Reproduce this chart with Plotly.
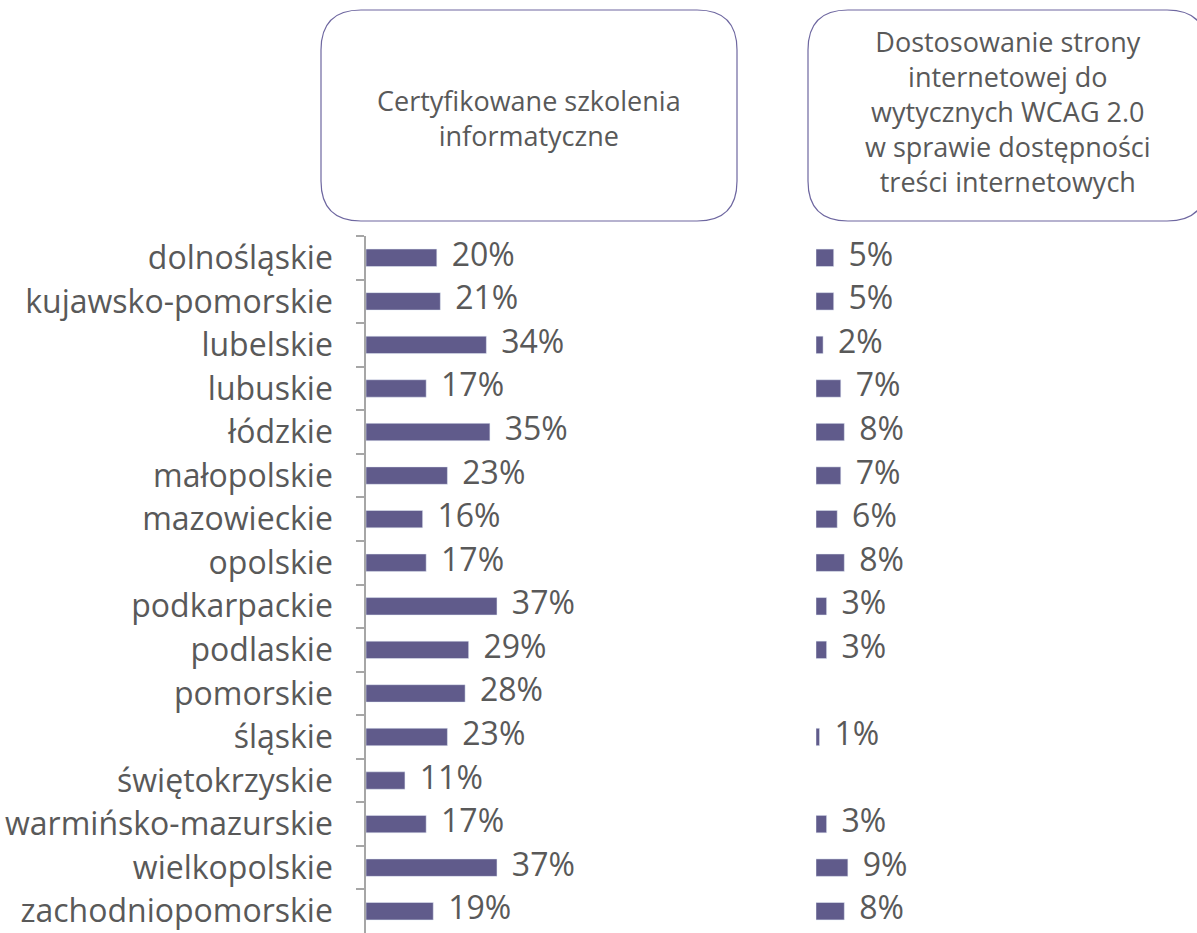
import plotly.graph_objects as go

regions = ["dolnośląskie", "kujawsko-pomorskie", "lubelskie", "lubuskie", "łódzkie",
           "małopolskie", "mazowieckie", "opolskie", "podkarpackie", "podlaskie",
           "pomorskie", "śląskie", "świętokrzyskie", "warmińsko-mazurskie",
           "wielkopolskie", "zachodniopomorskie"]
cert = [20, 21, 34, 17, 35, 23, 16, 17, 37, 29, 28, 23, 11, 17, 37, 19]
wcag = [5, 5, 2, 7, 8, 7, 6, 8, 3, 3, None, 1, None, 3, 9, 8]
header_left = ["Certyfikowane szkolenia", "informatyczne"]
header_right = ["Dostosowanie strony", "internetowej do", "wytycznych WCAG 2.0",
                "w sprawie dostępności", "treści internetowych"]

W, H = 1197, 933
PX_PER_PCT = 3.54
BAR = "#605B8B"
TXT = "#595959"
FONT = "Open Sans"
FS = 32
HFS = 27


def px(x):
    return x / W


def py(y):
    return (H - y) / H


def fmt(v):
    return "" if v is None else f"{v}%"


LABEL_OFF = 4.2  # data units

fig = go.Figure()
fig.add_trace(go.Bar(y=regions, x=cert, orientation="h", marker_color=BAR,
                     width=0.4, xaxis="x", yaxis="y", hoverinfo="skip"))
fig.add_trace(go.Bar(y=regions, x=wcag, orientation="h", marker_color=BAR,
                     width=0.4, xaxis="x2", yaxis="y", hoverinfo="skip"))
fig.add_trace(go.Scatter(y=regions, x=[v + LABEL_OFF for v in cert], mode="text",
                         text=[fmt(v) for v in cert], textposition="middle right",
                         textfont=dict(family=FONT, size=FS, color=TXT),
                         xaxis="x", yaxis="y", hoverinfo="skip", cliponaxis=False))
fig.add_trace(go.Scatter(y=regions, x=[None if v is None else v + LABEL_OFF for v in wcag],
                         mode="text", text=[fmt(v) for v in wcag],
                         textposition="middle right",
                         textfont=dict(family=FONT, size=FS, color=TXT),
                         xaxis="x2", yaxis="y", hoverinfo="skip", cliponaxis=False))


def rrect(x0, y0, x1, y1, r):
    X = px
    Y = py
    return (f"M {X(x0 + r)},{Y(y0)} L {X(x1 - r)},{Y(y0)} Q {X(x1)},{Y(y0)} {X(x1)},{Y(y0 + r)} "
            f"L {X(x1)},{Y(y1 - r)} Q {X(x1)},{Y(y1)} {X(x1 - r)},{Y(y1)} "
            f"L {X(x0 + r)},{Y(y1)} Q {X(x0)},{Y(y1)} {X(x0)},{Y(y1 - r)} "
            f"L {X(x0)},{Y(y0 + r)} Q {X(x0)},{Y(y0)} {X(x0 + r)},{Y(y0)} Z")


shapes = [
    dict(type="path", xref="paper", yref="paper", path=rrect(321, 10, 737, 221, 40),
         line=dict(color="#6E67A0", width=1.2)),
    dict(type="path", xref="paper", yref="paper", path=rrect(808, 10, 1207, 221, 40),
         line=dict(color="#6E67A0", width=1.2)),
]

annotations = [
    dict(xref="paper", yref="paper", x=px(529), y=py(118), text="<br>".join(header_left),
         showarrow=False, xanchor="center", yanchor="middle",
         font=dict(family=FONT, size=HFS, color=TXT)),
    dict(xref="paper", yref="paper", x=px(1008), y=py(111), text="<br>".join(header_right),
         showarrow=False, xanchor="center", yanchor="middle",
         font=dict(family=FONT, size=HFS, color=TXT)),
]

fig.update_layout(
    width=W, height=H, margin=dict(l=0, r=0, t=0, b=0),
    paper_bgcolor="white", plot_bgcolor="white", showlegend=False,
    shapes=shapes, annotations=annotations,
    xaxis=dict(domain=[px(366), px(740)], range=[0, (740 - 366) / PX_PER_PCT],
               visible=False, anchor="y"),
    xaxis2=dict(domain=[px(816), 1], range=[0, (W - 816) / PX_PER_PCT],
                visible=False, anchor="y"),
    yaxis=dict(domain=[0, py(236)], type="category", categoryorder="array",
               categoryarray=regions, range=[len(regions) - 0.5, -0.5], anchor="x",
               showline=True, linecolor="#A6A6A6", linewidth=1.5,
               ticks="outside", tickson="boundaries", ticklen=8, tickcolor="#A6A6A6",
               tickwidth=1.5, showgrid=False, ticklabelstandoff=25,
               tickfont=dict(family=FONT, size=FS, color=TXT)),
)

fig.write_html("out.html", config={"displayModeBar": False},
               post_script="document.body.style.margin='0';")
